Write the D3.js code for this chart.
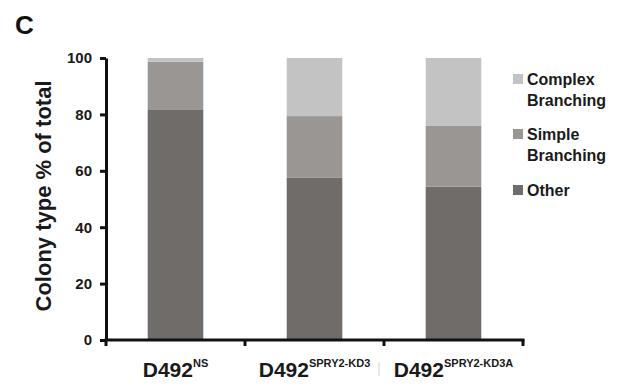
<!DOCTYPE html>
<html>
<head>
<meta charset="utf-8">
<script src="https://cdn.jsdelivr.net/npm/d3@7"></script>
<style>
  html, body { margin: 0; padding: 0; background: #fff; }
  svg { display: block; font-family: "Liberation Sans", Arial, sans-serif; font-weight: bold; }
</style>
</head>
<body>
<svg id="chart" width="623" height="386"></svg>
<script>
// Colony morphology, stacked as percent of total per cell line
const lines = ["D492", "D492", "D492"];
const superscripts = ["NS", "SPRY2-KD3", "SPRY2-KD3A"];
const other = [81.8, 57.5, 54.4];
const simpleBranching = [16.9, 21.9, 21.5];
const complexBranching = [1.3, 20.6, 24.1];
const seriesNames = ["Other", "Simple Branching", "Complex Branching"];
const legendLabels = [["Complex", "Branching"], ["Simple", "Branching"], ["Other"]];
const yTicks = [0, 20, 40, 60, 80, 100];

const colors = { "Other": "#706c6a", "Simple Branching": "#9a9694", "Complex Branching": "#c3c3c3" };

const svg = d3.select("#chart");
const plot = { left: 106, right: 523, top: 58, bottom: 340 };

const keys = superscripts.map((s, i) => i);
const x = d3.scaleBand().domain(keys).range([plot.left, plot.right])
  .paddingInner(0.6).paddingOuter(0.3);
const y = d3.scaleLinear().domain([0, 100]).range([plot.bottom, plot.top]);

const rows = keys.map(i => ({
  key: i,
  "Other": other[i],
  "Simple Branching": simpleBranching[i],
  "Complex Branching": complexBranching[i]
}));
const stacked = d3.stack().keys(seriesNames)(rows);

// bars
svg.append("g").selectAll("g").data(stacked).join("g")
  .attr("fill", d => colors[d.key])
  .selectAll("rect").data(d => d).join("rect")
  .attr("x", d => x(d.data.key))
  .attr("width", x.bandwidth())
  .attr("y", d => y(d[1]))
  .attr("height", d => y(d[0]) - y(d[1]));

// y axis
const yAxis = svg.append("g").attr("transform", `translate(${plot.left},0)`)
  .call(d3.axisLeft(y).tickValues(yTicks).tickSize(6).tickSizeOuter(0).tickPadding(8));
yAxis.select(".domain").attr("stroke", "#111").attr("stroke-width", 3);
yAxis.selectAll(".tick line").attr("stroke", "#111").attr("stroke-width", 3);
yAxis.selectAll(".tick text")
  .attr("font-size", 15).attr("font-weight", "bold").attr("fill", "#1a1a1a")
  .attr("font-family", "Liberation Sans, Arial, sans-serif");

// x axis with ticks at category boundaries
const step = x.step();
const xAxis = svg.append("g").attr("transform", `translate(0,${plot.bottom})`);
xAxis.append("line")
  .attr("x1", plot.left - 1.5).attr("x2", plot.right + 1.5)
  .attr("stroke", "#111").attr("stroke-width", 3);
xAxis.selectAll("line.bound").data(d3.range(keys.length + 1)).join("line")
  .attr("class", "bound")
  .attr("x1", i => plot.left + step * i).attr("x2", i => plot.left + step * i)
  .attr("y1", 0).attr("y2", 6)
  .attr("stroke", "#111").attr("stroke-width", 3);

// category labels with superscripts
const labels = svg.append("g").selectAll("text").data(keys).join("text")
  .attr("x", i => x(i) + x.bandwidth() / 2)
  .attr("y", 377)
  .attr("text-anchor", "middle")
  .attr("fill", "#1a1a1a");
labels.append("tspan").attr("font-size", 21).text(i => lines[i]);
labels.append("tspan").attr("font-size", 11).attr("dy", -10).text(i => superscripts[i]);

// thin separator between the second and third labels
svg.append("line")
  .attr("x1", plot.left + step * 2 - 5).attr("x2", plot.left + step * 2 - 5)
  .attr("y1", 362).attr("y2", 376)
  .attr("stroke", "#d0d0d0").attr("stroke-width", 1);

// y axis title
svg.append("text")
  .attr("transform", `translate(51,${(79 + 313) / 2}) rotate(-90)`)
  .attr("text-anchor", "middle")
  .attr("font-size", 22)
  .attr("fill", "#1a1a1a")
  .text("Colony type % of total");

// panel letter
svg.append("text").attr("x", 15).attr("y", 34)
  .attr("font-size", 26).attr("fill", "#111").text("C");

// legend
const legendOrder = ["Complex Branching", "Simple Branching", "Other"];
const legendTops = [85, 140, 196];
const legend = svg.append("g");
legendOrder.forEach((name, i) => {
  legend.append("rect")
    .attr("x", 513).attr("y", legendTops[i] - 11)
    .attr("width", 10).attr("height", 10)
    .attr("fill", colors[name]);
  const t = legend.append("text").attr("x", 527).attr("y", legendTops[i])
    .attr("font-size", 16).attr("fill", "#1a1a1a");
  legendLabels[i].forEach((part, j) => {
    t.append("tspan").attr("x", 527).attr("dy", j === 0 ? 0 : 21).text(part);
  });
});
</script>
</body>
</html>
